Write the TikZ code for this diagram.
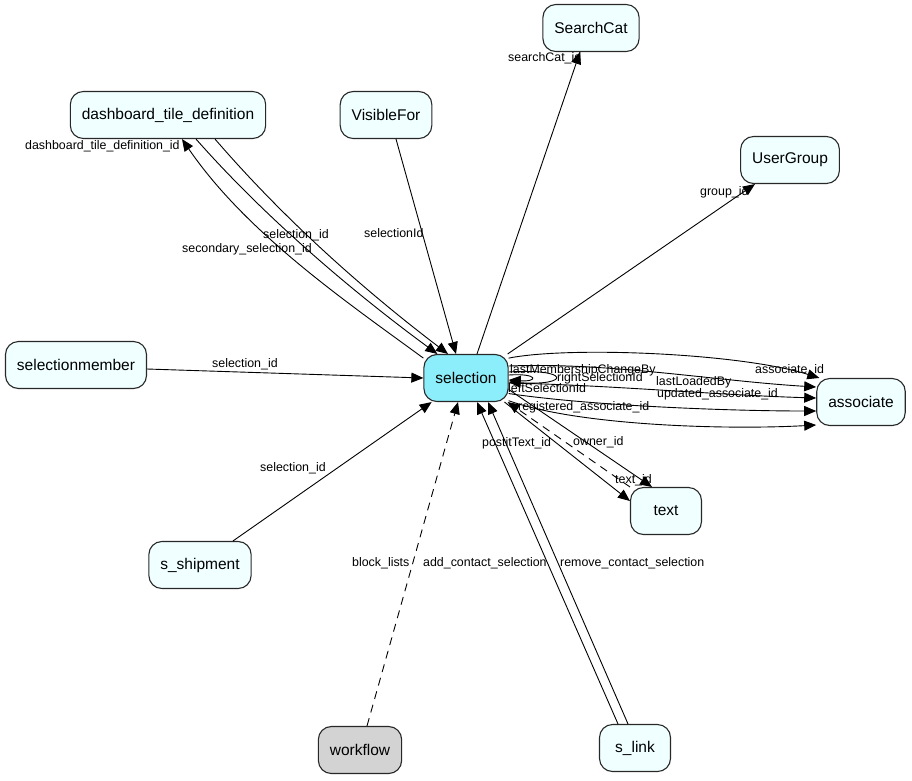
\documentclass[tikz,border=0pt]{standalone}
\usepackage{fontspec}
\setmainfont{Liberation Sans}
\usetikzlibrary{arrows.meta}
\definecolor{selfill}{RGB}{140,238,250}
\definecolor{tblfill}{RGB}{240,255,255}
\definecolor{wffill}{RGB}{211,211,211}
\definecolor{tblline}{RGB}{40,40,40}
\begin{document}
\begin{tikzpicture}[x=1pt,y=-1pt,
  tbl/.style={draw=tblline,line width=1.1pt,fill=tblfill,rounded corners=13pt,minimum width=71pt,minimum height=47pt,inner xsep=11.5pt,inner ysep=0pt,font=\fontsize{15.5}{18}\selectfont},
  lbl/.style={inner sep=0pt,anchor=west,font=\fontsize{12.4}{14}\selectfont},
  fk/.style={line width=0.9pt,-{Triangle[length=12pt,width=10pt]}},
  soft/.style={fk,dash pattern=on 8pt off 6pt}]
\useasboundingbox[fill=white] (0,0) rectangle (912,780);
\node[tbl,fill=selfill] (sel) at (466,378) {selection};
\node[tbl] (sc) at (591,28) {SearchCat};
\node[tbl] (dsh) at (168,115) {dashboard\_tile\_definition};
\node[tbl] (vis) at (386,115) {VisibleFor};
\node[tbl] (ug) at (790,160) {UserGroup};
\node[tbl] (mem) at (76,365) {selectionmember};
\node[tbl] (asc) at (861,402) {associate};
\node[tbl] (txt) at (666,511) {text};
\node[tbl] (shp) at (200,565) {s\_shipment};
\node[tbl,fill=wffill] (wf) at (360,750) {workflow};
\node[tbl] (lnk) at (635,748) {s\_link};
\draw[fk] ([xshift=11pt]sel.north) -- ([xshift=-11pt]sc.south);
\draw[fk] ([xshift=10pt]vis.south) -- ([xshift=-10pt]sel.north);
\draw[fk] (sel.155) .. controls +(-75,-55) and +(65,95) .. ([xshift=14pt]dsh.south);
\draw[fk] ([xshift=28pt]dsh.south) .. controls +(75,85) and +(-75,-55) .. (sel.140);
\draw[fk] ([xshift=47pt]dsh.south) .. controls +(75,87) and +(-75,-57) .. ([xshift=-18pt]sel.north);
\draw[fk] ([yshift=-4pt]mem.east) -- (sel.west);
\draw[fk] ([xshift=33pt]shp.north) -- (sel.215);
\draw[soft] ([xshift=7pt]wf.north) -- ([xshift=-8pt]sel.south);
\draw[fk] ([xshift=-17pt]lnk.north) -- ([xshift=11pt]sel.south);
\draw[fk] ([xshift=-7pt]lnk.north) -- ([xshift=22pt]sel.south);
\draw[fk] (sel.30) -- ([xshift=-35pt]ug.south);
\draw[fk] (sel.25) .. controls +(60,-12) and +(-80,-25) .. (asc.150);
\draw[fk] ([yshift=12pt]sel.east) .. controls +(100,-4) and +(-100,-6) .. ([yshift=15pt]asc.west);
\draw[fk] ([yshift=-5pt]sel.east) .. controls +(100,2) and +(-100,-3) .. ([yshift=4pt]asc.west);
\draw[fk] (sel.-20) .. controls +(80,12) and +(-90,0) .. ([yshift=-9pt]asc.west);
\draw[fk] (sel.-28) .. controls +(70,25) and +(-90,5) .. ([yshift=-23pt]asc.west);
\draw[fk] ([yshift=6pt]sel.east) .. controls +(62,-4) and +(62,4) .. ([yshift=-4pt]sel.east);
\draw[fk] ([yshift=3pt]sel.east) .. controls +(30,-2) and +(30,2) .. ([yshift=-2pt]sel.east);
\draw[fk] (sel.-32) -- ([yshift=10pt]txt.west);
\draw[fk] (sel.-15) -- ([xshift=-14pt]txt.north);
\draw[soft] (txt.north west) -- (sel.-30);
\node[lbl] (lsearch) at (508,58) {searchCat\_id};
\node[lbl] (ldash) at (25,146) {dashboard\_tile\_definition\_id};
\node[lbl] (ldashsel) at (263,235) {selection\_id};
\node[lbl] (ldashsec) at (182,249) {secondary\_selection\_id};
\node[lbl] (lvis) at (364,233) {selectionId};
\node[lbl] (lgroup) at (700,192) {group\_id};
\node[lbl] (lmem) at (212,364) {selection\_id};
\node[lbl] (lshp) at (260,468) {selection\_id};
\node[lbl] (lblock) at (352,563) {block\_lists};
\node[lbl] (ladd) at (423,563) {add\_contact\_selection};
\node[lbl] (lremove) at (560,563) {remove\_contact\_selection};
\node[lbl] (lasc) at (755,370) {associate\_id};
\node[lbl] (lmember) at (510,370) {lastMembershipChangeBy};
\node[lbl] (lloaded) at (656,382) {lastLoadedBy};
\node[lbl] (lupdated) at (657,394) {updated\_associate\_id};
\node[lbl] (lright) at (557,378) {rightSelectionId};
\node[lbl] (lleft) at (508,388) {leftSelectionId};
\node[lbl] (lregistered) at (518,407) {registered\_associate\_id};
\node[lbl] (lpostit) at (482,443) {postitText\_id};
\node[lbl] (lowner) at (573,442) {owner\_id};
\node[lbl] (ltext) at (615,480) {text\_id};
\end{tikzpicture}
\end{document}
